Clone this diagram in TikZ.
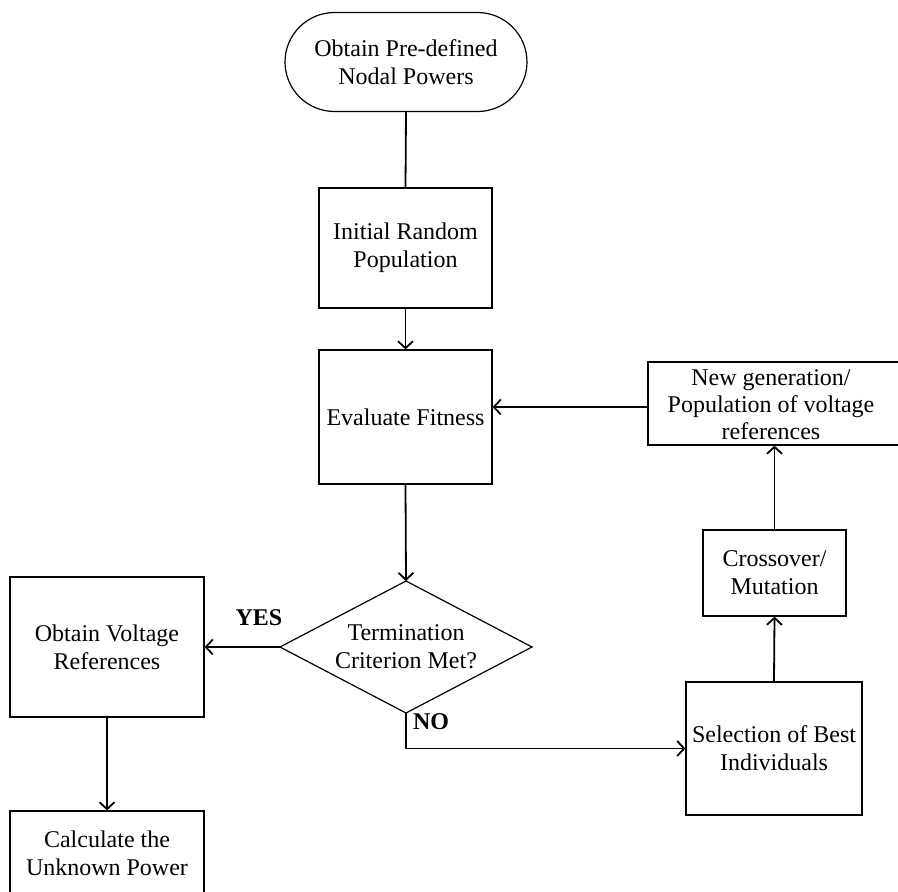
\documentclass[tikz,border=0pt]{standalone}
\usepackage{fontspec}
\setmainfont{Liberation Serif}
\usetikzlibrary{shapes.geometric,shapes.misc,arrows.meta}
\tikzset{
  txt/.style={align=center, inner sep=2pt, font=\fontsize{24}{28}\selectfont},
  base/.style={txt, draw, line width=1.2pt},
  procbox/.style={base, rectangle},
  term/.style={base, rounded rectangle},
  conn/.style={line width=1.8pt},
  arr/.style={conn, -{Straight Barb[length=7pt,width=15pt,line width=1.8pt]}},
  lbl/.style={font=\fontsize{24}{28}\selectfont\bfseries}
}
\begin{document}
\begin{tikzpicture}[x=1pt,y=-1pt]
\useasboundingbox (0,0) rectangle (898,892);
\node[term, minimum width=246pt, minimum height=99pt] (start) at (406,62) {Obtain Pre-defined\\Nodal Powers};
\node[procbox, minimum width=173pt, minimum height=120pt] (init) at (405.5,248) {Initial Random\\Population};
\node[procbox, minimum width=173pt, minimum height=134pt] (eval) at (405.5,417) {Evaluate Fitness};
% decision diamond
\coordinate (dN) at (406,581);
\coordinate (dS) at (406,713);
\coordinate (dW) at (280,647);
\coordinate (dE) at (532,647);
\draw[line width=1.2pt] (dN) -- (dE) -- (dS) -- (dW) -- cycle;
\node[txt] (dia) at (406,647) {Termination\\Criterion Met?};
\node[procbox, minimum width=194pt, minimum height=140pt] (ovr) at (107,647) {Obtain Voltage\\References};
\node[procbox, minimum width=194pt, minimum height=90pt] (calc) at (107,856) {};
\node[txt] (calclbl) at (107,853) {Calculate the\\Unknown Power};
\node[procbox, minimum width=260pt, minimum height=83pt] (newgen) at (778,403.5) {};
\node[txt, font=\fontsize{24}{27}\selectfont] (newgenlbl) at (771,404.5) {New generation/\\Population of voltage\\references};
\node[procbox, minimum width=143pt, minimum height=86pt] (cross) at (774.5,573) {Crossover/\\Mutation};
\node[procbox, minimum width=176pt, minimum height=133pt] (sel) at (774,748.5) {Selection of Best\\Individuals};
\node[lbl] (yes) at (259,618) {YES};
\node[lbl] (no) at (431,722) {NO};

\draw[conn] (start.south) -- (init.north);
\draw[arr] (init.south) -- (eval.north);
\draw[arr] (eval.south) -- (dN);
\draw[arr] (dW) -- (ovr.east);
\draw[arr] (ovr.south) -- (calc.north);
\draw[arr] (dS) |- (sel.west);
\draw[arr] (sel.north) -- (cross.south);
\draw[arr] (cross.north) -- (cross.north |- newgen.south);
\draw[arr] (newgen.west |- 0,407) -- (eval.east |- 0,407);
\end{tikzpicture}
\end{document}
